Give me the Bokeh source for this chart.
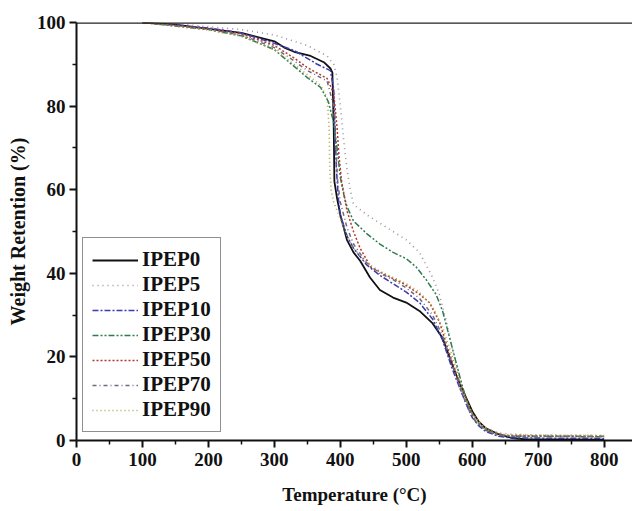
from bokeh.plotting import figure
from bokeh.models import Range1d, Span, Legend, LegendItem, FixedTicker
from bokeh.embed import file_html
from bokeh.resources import INLINE

# ---- data ----
T0 = [100, 150, 200, 250, 300, 315, 330, 355, 375, 385, 388, 390, 391, 395, 400, 410, 420, 430, 445, 460, 480, 500, 520, 540, 555, 570, 580, 590, 600, 610, 620, 640, 660, 680, 800]
W0 = [100, 99.5, 98.5, 97.5, 95.5, 94, 93, 92, 90.5, 89, 88, 75, 62, 58, 54, 48, 45, 43, 39, 36, 34.2, 33, 31, 28, 24.5, 18, 14, 10.5, 7, 4.5, 3, 1.5, 0.6, 0.3, 0.2]

T5 = [100, 150, 200, 250, 300, 350, 380, 390, 395, 400, 405, 410, 415, 420, 440, 460, 480, 500, 520, 530, 540, 550, 560, 570, 580, 590, 600, 620, 640, 660, 700, 800]
W5 = [100, 99.7, 99, 98.3, 97, 94.5, 92, 90, 87, 80, 72, 65, 60, 56.5, 54, 52, 50, 48, 45, 42, 39, 35, 29, 22, 15, 10, 6, 3, 1.8, 1.5, 1.3, 1.2]

T10 = [100, 200, 250, 300, 330, 365, 385, 390, 392, 394, 397, 400, 410, 420, 440, 460, 480, 500, 520, 540, 555, 570, 580, 590, 600, 610, 620, 640, 660, 800]
W10 = [100, 98.7, 97.5, 95, 93.3, 90, 88.5, 84, 75, 65, 58, 54, 49, 46, 42, 39.5, 37.5, 35.5, 33, 29, 24, 17, 13, 9, 5.5, 3.5, 2.2, 1, 0.6, 0.5]

T30 = [100, 200, 250, 300, 330, 350, 370, 382, 390, 395, 400, 405, 410, 420, 440, 460, 480, 500, 515, 530, 545, 555, 565, 575, 585, 595, 605, 620, 640, 660, 800]
W30 = [100, 98.3, 96.8, 93.5, 89.5, 86.8, 84.5, 81, 76, 70, 63, 59, 56, 52.5, 49.5, 47, 45, 43.5, 41.5, 38.5, 35, 31, 25, 19, 13, 8, 4.5, 2.5, 1.3, 1, 0.9]

T50 = [100, 200, 250, 300, 330, 350, 380, 390, 395, 398, 402, 410, 420, 430, 446, 470, 496, 520, 535, 550, 565, 580, 590, 600, 615, 630, 650, 800]
W50 = [100, 98.5, 97.3, 94.5, 91.5, 89.2, 86.6, 83, 75, 68, 62, 55, 50, 46, 41.5, 39.5, 37.5, 35, 33, 28.5, 21, 14, 10, 6.5, 3.5, 2, 1.2, 1]

T70 = [100, 200, 250, 300, 330, 350, 380, 390, 393, 396, 400, 410, 420, 440, 460, 480, 500, 520, 540, 555, 570, 585, 600, 620, 640, 660, 800]
W70 = [100, 98.4, 97, 94, 90.8, 88.5, 86, 80, 70, 62, 57, 51, 47, 42.5, 40, 38.5, 36.5, 34, 30, 25, 18, 11, 5.5, 2.5, 1.3, 1, 1]

T90 = [100, 200, 250, 300, 330, 350, 370, 380, 383, 384, 386, 390, 400, 410, 420, 440, 460, 480, 500, 520, 540, 555, 570, 585, 600, 615, 630, 650, 700, 800]
W90 = [100, 98.2, 96.7, 93.5, 90, 87.5, 85, 82, 75, 65, 60, 57, 53, 49, 46, 42.5, 40.5, 39, 37.5, 35.5, 32, 27, 20, 12, 6.5, 3.5, 2, 1.4, 1.3, 1.2]

names = ["IPEP0", "IPEP5", "IPEP10", "IPEP30", "IPEP50", "IPEP70", "IPEP90"]
xs = [T0, T5, T10, T30, T50, T70, T90]
ys = [W0, W5, W10, W30, W50, W70, W90]
colors = ["#111111", "#9c8f9c", "#3b3bb0", "#2f7a4e", "#b23a2a", "#6e6a80", "#a8a648"]
dashes = ["solid", "1 4", "6 2 2 2", "6 2 2 2 2 2", "2 2", "4 3 1 3", "1 3"]
widths = [1.8, 1.6, 1.5, 1.5, 1.5, 1.5, 1.6]

x_ticks = [0, 100, 200, 300, 400, 500, 600, 700, 800]
x_minor = [50, 150, 250, 350, 450, 550, 650, 750]
y_ticks = [0, 20, 40, 60, 80, 100]
y_minor = [10, 30, 50, 70, 90]

FONT = "Liberation Serif"

p = figure(width=632, height=511, output_backend="svg", toolbar_location=None,
           x_range=Range1d(0, 843), y_range=Range1d(0, 100),
           min_border_left=76, min_border_top=22, min_border_bottom=71, min_border_right=0)
p.background_fill_color = "white"
p.border_fill_color = "white"
p.outline_line_color = None
p.grid.visible = False

items = []
for name, x, y, c, d, w in zip(names, xs, ys, colors, dashes, widths):
    r = p.line(x, y, line_color=c, line_dash=d, line_width=w)
    items.append(LegendItem(label=name, renderers=[r]))

p.add_layout(Span(location=100, dimension="width", line_color="#222222", line_width=2.5))

for ax in (p.xaxis[0], p.yaxis[0]):
    ax.axis_line_width = 2
    ax.axis_line_color = "#111111"
    ax.major_tick_line_color = "#111111"
    ax.minor_tick_line_color = "#111111"
    ax.major_tick_line_width = 2
    ax.minor_tick_line_width = 1.5
    ax.major_tick_in = 0
    ax.major_tick_out = 7
    ax.minor_tick_in = 0
    ax.minor_tick_out = 4
    ax.major_label_text_font = FONT
    ax.major_label_text_font_style = "bold"
    ax.major_label_text_font_size = "19px"
    ax.major_label_text_color = "#111111"
    ax.axis_label_text_font = FONT
    ax.axis_label_text_font_style = "bold"
    ax.axis_label_text_color = "#111111"

p.xaxis[0].ticker = FixedTicker(ticks=x_ticks, minor_ticks=x_minor)
p.yaxis[0].ticker = FixedTicker(ticks=y_ticks, minor_ticks=y_minor)
p.xaxis[0].axis_label = "Temperature (°C)"
p.yaxis[0].axis_label = "Weight Retention (%)"
p.xaxis[0].axis_label_text_font_size = "19px"
p.yaxis[0].axis_label_text_font_size = "20px"
p.xaxis[0].major_label_standoff = 5
p.xaxis[0].axis_label_standoff = 15
p.yaxis[0].major_label_standoff = 4
p.yaxis[0].axis_label_standoff = 5

legend = Legend(items=items, location=(6, 8))
legend.label_text_font = FONT
legend.label_text_font_style = "bold"
legend.label_text_font_size = "21px"
legend.label_text_color = "#111111"
legend.glyph_width = 46
legend.glyph_height = 22
legend.label_height = 22
legend.spacing = 0
legend.padding = 9
legend.margin = 0
legend.label_standoff = 4
legend.border_line_color = "#222222"
legend.border_line_width = 1.2
legend.background_fill_alpha = 1.0
p.add_layout(legend, "center")

open("out.html", "w").write(file_html(p, INLINE))
